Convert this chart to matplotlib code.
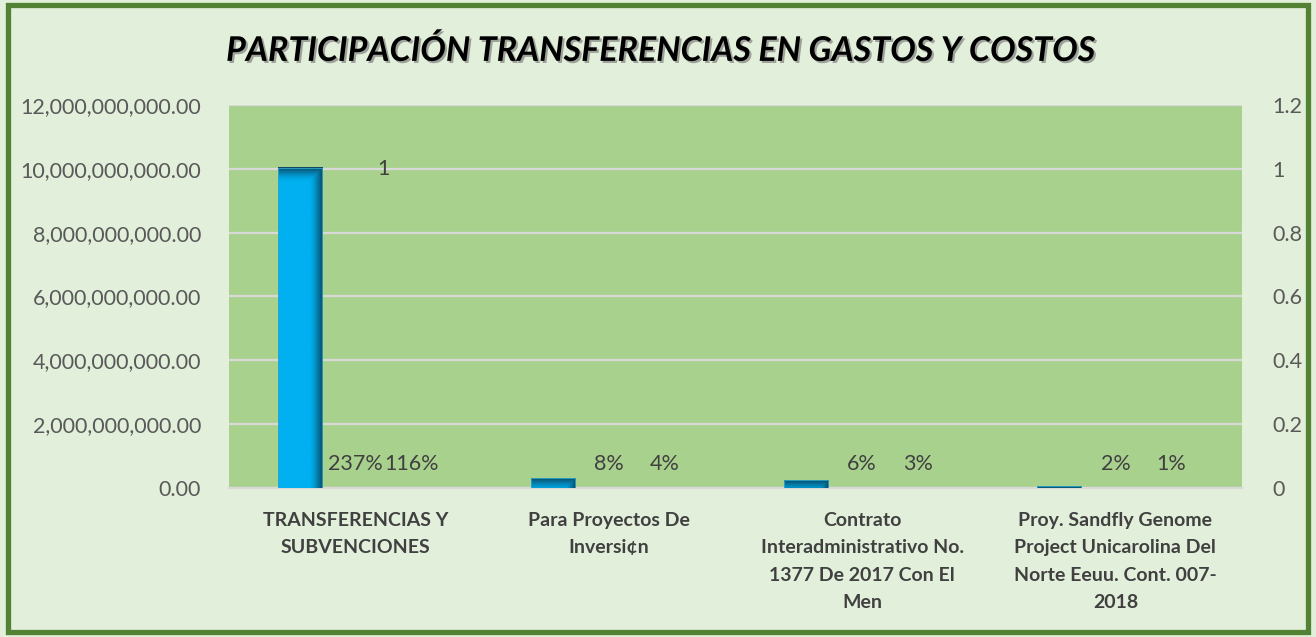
import numpy as np
import matplotlib.pyplot as plt
import matplotlib.patheffects as pe
from matplotlib.patches import Rectangle
from matplotlib.colors import to_rgb

# Data
categories = [
    "TRANSFERENCIAS Y\nSUBVENCIONES",
    "Para Proyectos De\nInversi¢n",
    "Contrato\nInteradministrativo No.\n1377 De 2017 Con El\nMen",
    "Proy. Sandfly Genome\nProject Unicarolina Del\nNorte Eeuu. Cont. 007-\n2018",
]
valores = [10.03e9, 0.31e9, 0.25e9, 0.06e9]
pct_gasto = ["237%", "8%", "6%", "2%"]
pct_costo = ["116%", "4%", "3%", "1%"]
marca_sec = [1, None, None, None]   # stray "1" label on secondary axis

left_ticks = np.arange(0, 12.01e9, 2e9)
right_ticks = [0, 0.2, 0.4, 0.6, 0.8, 1, 1.2]
right_labels = ["0", "0.2", "0.4", "0.6", "0.8", "1", "1.2"]

# Style
bg_color = "#E2EFDA"
plot_color = "#A9D18E"
border_color = "#548235"
bar_color = "#00B0F0"
dark_color = "#0A4A66"
grid_color = "#D9D9D9"
text_color = "#595959"
label_color = "#404040"
font = "Lato"

bar_w = 0.174
step = 0.221

plt.rcParams['font.family'] = [font, 'DejaVu Sans']

fig = plt.figure(figsize=(13.16, 6.37), dpi=100)
fig.patch.set_facecolor(bg_color)
ax = fig.add_axes([0.174, 0.2339, 0.7698, 0.6013])
ax.set_facecolor(plot_color)
ax2 = ax.twinx()

x = np.arange(len(categories))

# gradient image for the bars (dark right edge and dark top)
nx, ny = 60, 200
gx = np.linspace(0, 1, nx)
h = np.clip((gx - 0.72) / 0.28, 0, 1) ** 1.3
base = np.array(to_rgb(bar_color))
dark = np.array(to_rgb(dark_color))
top_band = 0.035 * 12e9

for xi, v in zip(x, valores):
    x0 = xi - step - bar_w / 2
    x1 = x0 + bar_w
    gy = np.linspace(v, 0, ny)  # row 0 is top
    vv = np.clip(1 - (v - gy) / top_band, 0, 1) ** 1.5
    f = np.maximum(h[None, :], vv[:, None])
    img = base[None, None, :] * (1 - f[..., None]) + dark[None, None, :] * f[..., None]
    ax.imshow(img, extent=(x0, x1, 0, v), aspect='auto', zorder=3,
              interpolation='bilinear')
    ax.add_patch(Rectangle((x0, 0), bar_w, v, fill=False,
                           edgecolor="#2FA8C8", linewidth=0.6, zorder=4))

ax.set_xlim(-0.5, len(categories) - 0.5)
ax.set_ylim(0, 12e9)
ax.set_yticks(left_ticks)
ax.set_yticklabels([f"{t:,.2f}" for t in left_ticks])
ax.set_xticks(x)
ax.set_xticklabels(categories, fontsize=14, fontweight='bold', color=label_color,
                   linespacing=1.75, va='top')
ax.tick_params(axis='x', length=0, pad=17)
ax.tick_params(axis='y', length=0, pad=20, labelsize=15.5, labelcolor=text_color)
ax.grid(axis='y', color=grid_color, linewidth=1.6, zorder=1)
ax.set_axisbelow(True)
for s in ['top', 'left', 'right']:
    ax.spines[s].set_visible(False)
ax.spines['bottom'].set_color(grid_color)
ax.spines['bottom'].set_linewidth(1.6)

ax2.set_ylim(0, 1.2)
ax2.set_yticks(right_ticks)
ax2.set_yticklabels(right_labels)
ax2.tick_params(axis='y', length=0, pad=22, labelsize=15.5, labelcolor=text_color)
for s in ax2.spines.values():
    s.set_visible(False)

# data labels
for xi, a, b in zip(x, pct_gasto, pct_costo):
    ax2.annotate(a, (xi, 0), xytext=(0, 10), textcoords='offset points',
                 ha='center', va='bottom', fontsize=15.5, color=label_color)
    ax2.annotate(b, (xi + step, 0), xytext=(0, 10), textcoords='offset points',
                 ha='center', va='bottom', fontsize=15.5, color=label_color)
for xi, m in zip(x, marca_sec):
    if m is not None:
        ax2.annotate(str(m), (xi + step / 2, m), ha='center', va='center',
                     fontsize=15.5, color=label_color)

fig.suptitle("PARTICIPACIÓN TRANSFERENCIAS EN GASTOS Y COSTOS",
             x=0.502, y=0.946, fontsize=24.5, fontweight='bold', style='italic',
             color='black',
             path_effects=[pe.SimplePatchShadow(offset=(1.5, -1.5),
                                                shadow_rgbFace='#808080', alpha=0.7),
                           pe.Normal()])

# outer frame
fig.patches.append(Rectangle((0.006, 0.008), 0.988, 0.984, transform=fig.transFigure,
                             fill=False, edgecolor=border_color, linewidth=3.8))

fig.savefig("out.png", dpi=100, facecolor=fig.get_facecolor())
